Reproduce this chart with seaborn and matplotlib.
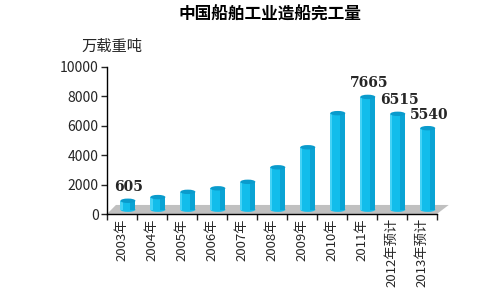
import numpy as np
import pandas as pd
import matplotlib
matplotlib.use("Agg")
import matplotlib.pyplot as plt
from matplotlib.patches import Ellipse, Polygon
import seaborn as sns

sns.set_style("white")
plt.rcParams['font.family'] = ['Noto Sans CJK SC', 'DejaVu Sans']

# data (万载重吨)
years = ["2003年", "2004年", "2005年", "2006年", "2007年", "2008年",
         "2009年", "2010年", "2011年", "2012年预计", "2013年预计"]
output = [605, 855, 1212, 1452, 1893, 2881, 4243, 6560, 7665, 6515, 5540]
shown = {"2003年": 605, "2011年": 7665, "2012年预计": 6515, "2013年预计": 5540}

df = pd.DataFrame({"year": years, "output": output})

fig = plt.figure(figsize=(5.02, 2.99), dpi=100)
ax = fig.add_axes([0.213, 0.284, 0.657, 0.492])

# grey floor (3d look)
floor = Polygon([(-0.5, 0), (10.5, 0), (10.9, 620), (-0.2, 620)],
                closed=True, facecolor="#c0c0c0", edgecolor="none", zorder=0, clip_on=False)
ax.add_patch(floor)

sns.barplot(data=df, x="year", y="output", color="#12bdeb", width=0.5,
            saturation=1, edgecolor="none", ax=ax, zorder=2)

shift = 0.2
lift = 300  # bars stand on the floor
for p in ax.patches:
    if isinstance(p, Polygon):
        continue
    p.set_x(p.get_x() + shift)
    p.set_y(lift)

# cylinder shading and tops
for i, v in enumerate(output):
    cx = i + shift
    ax.add_patch(plt.Rectangle((cx + 0.08, lift), 0.17, v, facecolor="#0aa3d4",
                               edgecolor="none", zorder=3))
    ax.add_patch(plt.Rectangle((cx - 0.25, lift), 0.07, v, facecolor="#45d3f6",
                               edgecolor="none", zorder=3))
    ax.add_patch(Ellipse((cx, v + lift), 0.5, 300, facecolor="#0a9bcc",
                         edgecolor="none", zorder=4))
    ax.add_patch(Ellipse((cx, lift), 0.5, 300, facecolor="#12bdeb",
                         edgecolor="none", zorder=1.9))
    if years[i] in shown:
        dx = -0.45 if i == 0 else -0.6
        ax.annotate(str(shown[years[i]]), (cx + dx, v + lift + 450), ha="left", va="bottom",
                    fontsize=10, fontweight="bold", family="DejaVu Serif", zorder=5)

ax.set_xlim(-0.5, 10.5)
ax.set_ylim(0, 10000)
ax.set_yticks(np.arange(0, 10001, 2000))
ax.set_xlabel("")
ax.set_ylabel("")
ax.tick_params(axis="y", direction="out", length=4, width=1, labelsize=10, pad=2, left=True)
ax.tick_params(axis="x", length=0, labelsize=9.5, pad=3, labelrotation=90)
ax.set_xticks(np.arange(-0.5, 10.6, 1), minor=True)
ax.tick_params(axis="x", which="minor", direction="out", length=4, width=1, bottom=True)
for lab in ax.get_xticklabels():
    lab.set_verticalalignment("top")
for s in ["top", "right"]:
    ax.spines[s].set_visible(False)
for s in ["left", "bottom"]:
    ax.spines[s].set_color("black")
    ax.spines[s].set_linewidth(1)

fig.text(0.538, 0.95, "中国船舶工业造船完工量", ha="center", va="center",
         fontsize=12, fontweight="bold", color="black")
fig.text(0.163, 0.845, "万载重吨", ha="left", va="center", fontsize=11)

fig.savefig("out.png", dpi=100)
